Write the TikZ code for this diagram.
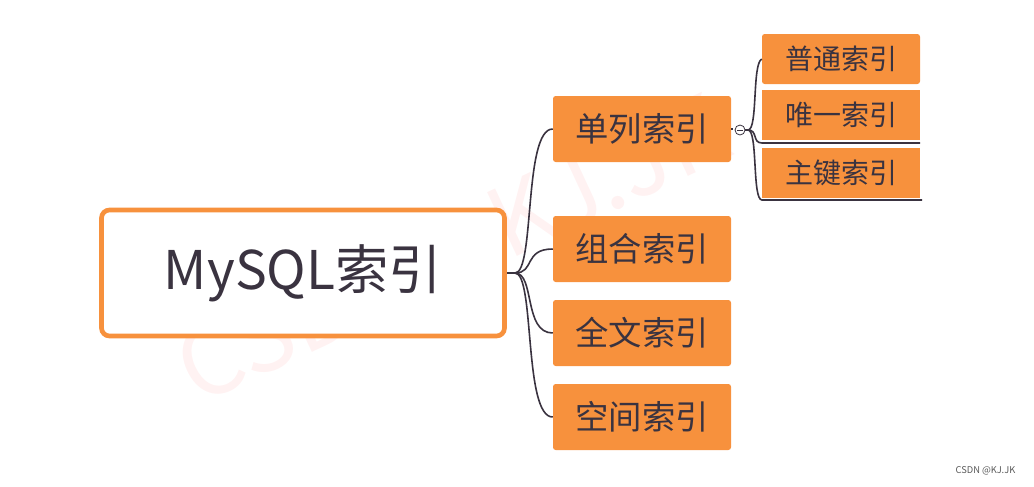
\documentclass[tikz,border=0pt]{standalone}
\usepackage{fontspec}
\setmainfont{Noto Sans CJK SC}
\begin{document}
\begin{tikzpicture}[x=0.75pt,y=-0.75pt,
  child/.style={fill=ora, draw=none, rounded corners=2pt, minimum width=178*0.75pt, minimum height=66*0.75pt, font=\fontsize{25}{25}\selectfont, text=txt, inner sep=0pt},
  sub/.style={fill=ora, draw=none, minimum width=158*0.75pt, minimum height=50*0.75pt, font=\fontsize{21}{21}\selectfont, text=txt, inner sep=0pt},
  br/.style={draw=txt, line width=1.2pt}]
\definecolor{ora}{HTML}{F7913D}
\definecolor{txt}{HTML}{3A3340}
\useasboundingbox (0,0) rectangle (1034,486);
\node[rotate=25, text=red!5, font=\fontsize{72}{72}\selectfont] (wm) at (455,255) {CSDN@KJ.JK};
\node[draw=ora, line width=3.5pt, fill=white, rounded corners=6pt, minimum width=403*0.75pt, minimum height=126*0.75pt, font=\fontsize{40}{40}\selectfont, text=txt] (root) at (303,273) {MySQL索引};
\node[child] (a) at (642,129) {单列索引};
\node[child] (b) at (642,249) {组合索引};
\node[child] (c) at (642,333) {全文索引};
\node[child] (d) at (642,417) {空间索引};
\node[sub, rounded corners=2pt] (a1) at (841,59) {普通索引};
\node[sub] (a2) at (841,115) {唯一索引};
\node[sub] (a3) at (841,173) {主键索引};
\coordinate (o) at (515,273);
\draw[br] (root.east) -- (o);
\foreach \n in {a,b,c,d}{\draw[br] (o) .. controls (535,273) and ([xshift=-22pt]\n.west) .. (\n.west);}
\draw[br] (a.east) -- (733,129);
\node[circle, draw=txt, fill=white, minimum size=10*0.75pt, inner sep=0pt, line width=0.6pt] (col) at (740,130) {};
\draw[txt, line width=0.6pt] ([xshift=-2pt]col.center) -- ([xshift=2pt]col.center);
\coordinate (s) at (748,130);
\draw[br] (col.east) -- (s);
\draw[br] (s) .. controls (758,130) and (752,64) .. (a1.west);
\draw[br] (s) .. controls (758,130) and (752,143) .. (762,143) -- (920,143);
\draw[br] (s) .. controls (758,130) and (752,200) .. (762,200) -- (922,200);
\node[font=\fontsize{7}{7}\selectfont, text=gray!70!black, anchor=east] (cs) at (1020,471) {CSDN @KJ.JK};
\end{tikzpicture}
\end{document}
